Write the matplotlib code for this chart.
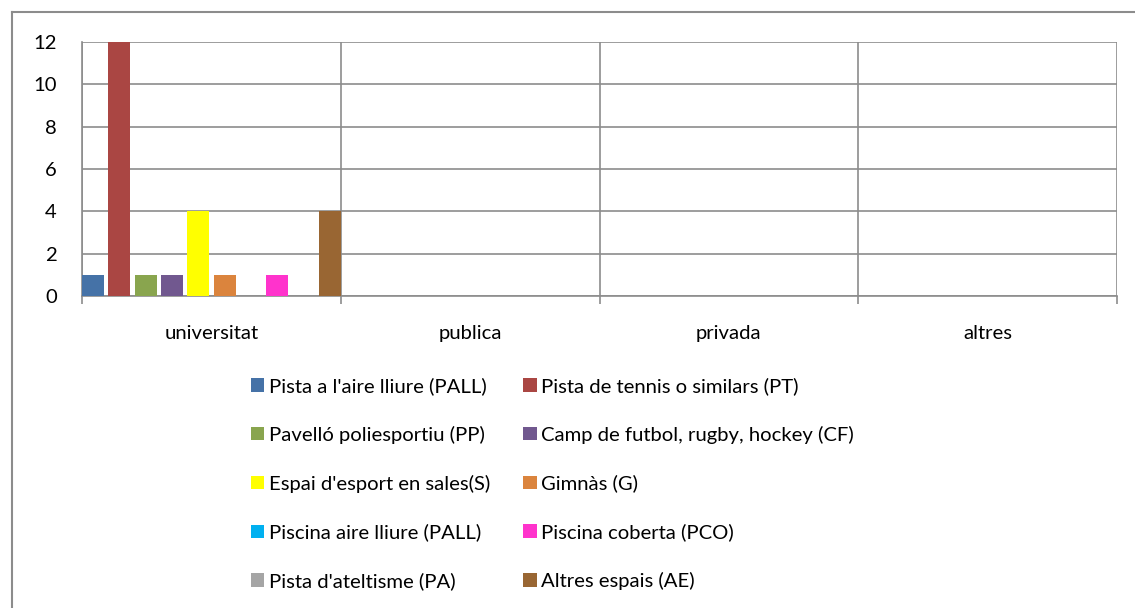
import matplotlib
matplotlib.use("Agg")
import matplotlib.pyplot as plt
from matplotlib.patches import Patch
from matplotlib.lines import Line2D

categories = ["universitat", "publica", "privada", "altres"]

series_names = [
    "Pista a l'aire lliure (PALL)",
    "Pista de tennis o similars (PT)",
    "Pavelló poliesportiu (PP)",
    "Camp de futbol, rugby, hockey (CF)",
    "Espai d'esport en sales(S)",
    "Gimnàs (G)",
    "Piscina aire lliure (PALL)",
    "Piscina coberta (PCO)",
    "Pista d'ateltisme (PA)",
    "Altres espais (AE)",
]

# one list per category, one value per series
universitat = [1, 12, 1, 1, 4, 1, 0, 1, 0, 4]
publica = [0, 0, 0, 0, 0, 0, 0, 0, 0, 0]
privada = [0, 0, 0, 0, 0, 0, 0, 0, 0, 0]
altres = [0, 0, 0, 0, 0, 0, 0, 0, 0, 0]

colors = ["#4572A7", "#AA4643", "#89A54E", "#71588F", "#FFFF00",
          "#DB843D", "#00B0F0", "#FF33CC", "#A5A5A5", "#996633"]

plt.rcParams["font.family"] = ["Lato", "DejaVu Sans"]
fs = 14.6

fig = plt.figure(figsize=(11.35, 6.08), dpi=100)
ax = fig.add_axes([82 / 1135, 1 - 296 / 608, 1035 / 1135, 254 / 608])

values = [universitat, publica, privada, altres]
bw = 0.085
step = (1 - bw) / 9
for j in range(len(series_names)):
    xs = [i + j * step for i in range(len(categories))]
    ys = [values[i][j] for i in range(len(categories))]
    ax.bar(xs, ys, width=bw, align="edge", color=colors[j], zorder=3)

grid_c = "#8c8c8c"
ax.set_xlim(0, 4)
ax.set_ylim(0, 12)
ax.set_yticks(range(0, 13, 2))
ax.set_xticks([i + 0.5 for i in range(4)])
ax.set_xticklabels(categories, fontsize=fs)
ax.set_xticks(range(5), minor=True)
ax.tick_params(axis="x", which="major", length=0, pad=21)
ax.tick_params(axis="x", which="minor", length=6, width=1.2, color=grid_c)
ax.tick_params(axis="y", length=0, pad=18, labelsize=fs)
ax.grid(axis="y", color=grid_c, linewidth=1.2, zorder=0)
ax.grid(axis="x", which="minor", color=grid_c, linewidth=1.2, zorder=0)
for s in ["top", "right"]:
    ax.spines[s].set_visible(False)
ax.spines["left"].set_color(grid_c)
ax.spines["bottom"].set_color(grid_c)
ax.spines["left"].set_linewidth(1.2)
ax.spines["bottom"].set_linewidth(1.2)

# legend, row order: left column even series, right column odd series
order = [0, 2, 4, 6, 8, 1, 3, 5, 7, 9]
handles = [Patch(facecolor=colors[k], edgecolor="none") for k in order]
labels = [series_names[k] for k in order]
fig.legend(handles, labels, ncol=2, loc="upper left",
           bbox_to_anchor=(251 / 1135, 1 - 377 / 608), frameon=False,
           fontsize=fs, handlelength=0.65, handleheight=0.65, handletextpad=0.22,
           labelspacing=1.52, columnspacing=1.65, borderpad=0, borderaxespad=0)

# outer chart border
fig.add_artist(Line2D([12 / 1135, 12 / 1135], [0, 1 - 12 / 608],
                      color="#8c8c8c", linewidth=1.5, transform=fig.transFigure))
fig.add_artist(Line2D([12 / 1135, 1], [1 - 12 / 608, 1 - 12 / 608],
                      color="#8c8c8c", linewidth=1.5, transform=fig.transFigure))

fig.savefig("out.png", dpi=100)
